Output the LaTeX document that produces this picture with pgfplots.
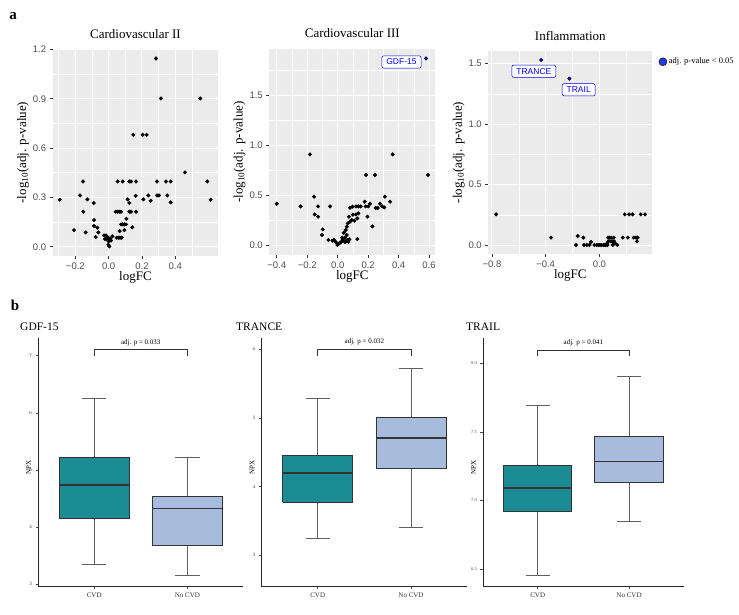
\documentclass[border=0pt]{standalone}
\usepackage{fontspec}
\setmainfont{Liberation Serif}
\newfontfamily\arial{Liberation Sans}
\usepackage{pgfplots}
\pgfplotsset{compat=1.18}
\newcommand\fs[1]{\fontsize{#1}{#1}\selectfont}
\definecolor{ggbg}{RGB}{235,235,235}
\definecolor{ggtick}{RGB}{77,77,77}
\definecolor{ggtickmark}{RGB}{51,51,51}
\definecolor{ptblue}{RGB}{0,0,255}
\definecolor{legblue}{RGB}{35,60,225}
\definecolor{cvd}{RGB}{27,139,148}
\definecolor{nocvd}{RGB}{167,188,220}
\definecolor{boxline}{RGB}{51,51,51}
\definecolor{whisk}{RGB}{95,95,95}
\tikzset{lbl/.style={draw=ptblue, fill=white, rounded corners=2pt, text=ptblue, font=\arial\fs{8.5}, inner xsep=4.5pt, inner ysep=3.2pt, line width=0.5pt}}
% box at position 1: #1 lower whisker, #2 Q1, #3 median, #4 Q3, #5 upper whisker, #6 fill
\newcommand\boxA[6]{%
  \addplot[whisk, line width=0.8pt] coordinates {(1,#4) (1,#5)};
  \addplot[whisk, line width=0.8pt] coordinates {(1,#2) (1,#1)};
  \addplot[whisk, line width=0.8pt] coordinates {(0.87,#5) (1.13,#5)};
  \addplot[whisk, line width=0.8pt] coordinates {(0.87,#1) (1.13,#1)};
  \addplot[fill=#6, draw=boxline, line width=0.9pt] coordinates {(0.625,#2) (1.375,#2) (1.375,#4) (0.625,#4) (0.625,#2)};
  \addplot[boxline, line width=1.4pt] coordinates {(0.625,#3) (1.375,#3)};
}
\newcommand\boxB[6]{%
  \addplot[whisk, line width=0.8pt] coordinates {(2,#4) (2,#5)};
  \addplot[whisk, line width=0.8pt] coordinates {(2,#2) (2,#1)};
  \addplot[whisk, line width=0.8pt] coordinates {(1.87,#5) (2.13,#5)};
  \addplot[whisk, line width=0.8pt] coordinates {(1.87,#1) (2.13,#1)};
  \addplot[fill=#6, draw=boxline, line width=0.9pt] coordinates {(1.625,#2) (2.375,#2) (2.375,#4) (1.625,#4) (1.625,#2)};
  \addplot[boxline, line width=1.4pt] coordinates {(1.625,#3) (2.375,#3)};
}
\pgfplotsset{
  volcano/.style={
    scale only axis,
    axis background/.style={fill=ggbg},
    axis line style={draw=none},
    xmajorgrids, ymajorgrids, xminorgrids, yminorgrids,
    major grid style={white, line width=1pt},
    minor grid style={white, line width=0.5pt},
    tick align=outside, tick pos=left,
    major tick length=3pt, minor tick length=0pt,
    major tick style={ggtickmark, line width=0.6pt},
    tick label style={font=\arial\fs{9.5}, text=ggtick},
    every axis title/.style={font=\fs{13}, at={(axis description cs:0.5,1.075)}, anchor=center},
    every axis y label/.style={at={(axis description cs:-0.18,0.5)}, rotate=90, anchor=center, font=\fs{13}},
    every axis x label/.style={at={(axis description cs:0.5,-0.102)}, anchor=center, font=\fs{13}},
    xlabel={logFC},
    ylabel={-log\textsubscript{10}(adj. p-value)},
  },
  blackpts/.style={only marks, mark=*, mark size=1.8pt, mark options={fill=black, draw=none}},
  bluepts/.style={only marks, mark=*, mark size=1.8pt, mark options={fill=ptblue, draw=none}},
  boxax/.style={
    scale only axis, height=248.4pt,
    axis x line=bottom, axis y line=left,
    axis line style={-, draw=black!85, line width=0.8pt},
    xmin=0.4, xmax=2.6, xtick={1,2}, xticklabels={CVD, No CVD},
    tick align=outside, major tick length=2.5pt,
    major tick style={black!70, line width=0.5pt},
    x tick label style={font=\fs{7}, text=black!80},
    y tick label style={font=\fs{4.5}, text=ggtick},
    ylabel={NPX},
    every axis y label/.style={at={(axis description cs:-0.047,0.48)}, rotate=90, anchor=center, font=\fs{7}},
  },
}
\begin{document}
\begin{tikzpicture}
\path[use as bounding box] (0,0) rectangle (739pt,-615pt);
\node[font=\bfseries\fs{15}] at (13pt,-16pt) {a};
\node[font=\bfseries\fs{15}] at (15pt,-305pt) {b};

% ---------- Cardiovascular II ----------
\begin{axis}[volcano, at={(52.7pt,-49.1pt)}, anchor=north west, width=165.6pt, height=207pt,
  xmin=-0.336, xmax=0.658, ymin=-0.057, ymax=1.202,
  xtick={-0.2,0,0.2,0.4}, xticklabels={−0.2,0.0,0.2,0.4},
  minor xtick={-0.3,-0.1,0.1,0.3,0.5},
  ytick={0,0.3,0.6,0.9,1.2}, yticklabels={0.0,0.3,0.6,0.9,1.2},
  minor ytick={0.15,0.45,0.75,1.05},
  title={Cardiovascular II}]
\addplot[blackpts] coordinates {
(0.284,1.145) (0.314,0.902) (0.55,0.902)
(0.148,0.681) (0.204,0.681) (0.228,0.681) (0.458,0.452)
(-0.154,0.397) (0.054,0.397) (0.084,0.397) (0.124,0.397) (0.134,0.397) (0.164,0.397) (0.29,0.397) (0.344,0.397) (0.372,0.397) (0.592,0.397)
(-0.172,0.312) (0.238,0.312) (0.29,0.312) (0.302,0.312) (0.352,0.312) (0.162,0.31)
(-0.294,0.286) (-0.128,0.288) (0.114,0.288) (0.208,0.288) (0.252,0.28) (0.372,0.27) (0.612,0.286)
(-0.09,0.266) (0.124,0.266)
(-0.152,0.213) (0.042,0.213) (0.054,0.213) (0.064,0.213) (0.074,0.213) (0.124,0.213) (0.134,0.213) (0.164,0.213)
(0.106,0.17) (-0.088,0.162)
(0.074,0.136) (0.084,0.136) (0.094,0.136) (0.104,0.136) (0.142,0.118)
(-0.088,0.126) (-0.068,0.116)
(0.094,0.101) (0.066,0.095) (-0.208,0.101)
(-0.138,0.087) (-0.062,0.087)
(-0.028,0.069) (-0.016,0.069)
(-0.078,0.059) (-0.006,0.059) (0.022,0.063)
(0.048,0.055) (0.058,0.055) (0.068,0.055) (0.078,0.055)
(-0.022,0.047) (-0.012,0.047) (0.008,0.047)
(0.0,0.032) (0.014,0.038)
(-0.002,0.012) (0.004,0.002)
};
\end{axis}

% ---------- Cardiovascular III ----------
\begin{axis}[volcano, at={(269.3pt,-49pt)}, anchor=north west, width=166pt, height=206.1pt,
  xmin=-0.449, xmax=0.641, ymin=-0.094, ymax=1.967,
  xtick={-0.4,-0.2,0,0.2,0.4,0.6}, xticklabels={−0.4,−0.2,0.0,0.2,0.4,0.6},
  minor xtick={-0.3,-0.1,0.1,0.3,0.5},
  ytick={0,0.5,1,1.5}, yticklabels={0.0,0.5,1.0,1.5},
  minor ytick={0.25,0.75,1.25,1.75},
  title={Cardiovascular III}]
\addplot[blackpts] coordinates {
(-0.40,0.42) (-0.243,0.393) (-0.182,0.913) (-0.155,0.49) (-0.151,0.313) (-0.129,0.393) (-0.129,0.29)
(-0.098,0.163) (-0.103,0.107) (-0.061,0.057) (-0.05,0.393)
(-0.024,0.057) (-0.013,0.037) (-0.002,0.007) (0.004,0.017) (0.015,0.03) (0.033,0.057) (0.048,0.08)
(0.059,0.107) (0.066,0.057) (0.048,0.037) (0.077,0.063) (-0.035,0.05) (0.025,0.04) (0.055,0.045) (0.07,0.04)
(0.053,0.157) (0.066,0.223) (0.081,0.24) (0.092,0.257) (0.074,0.29) (0.081,0.38) (0.098,0.39)
(0.12,0.393) (0.136,0.393) (0.151,0.393) (0.12,0.313) (0.129,0.273) (0.129,0.067) (0.177,0.44)
(0.184,0.393) (0.186,0.707) (0.201,0.393) (0.212,0.42) (0.195,0.29) (0.228,0.193) (0.245,0.707)
(0.25,0.377) (0.263,0.377) (0.278,0.42) (0.293,0.393) (0.31,0.49) (0.306,0.383) (0.344,0.44)
(0.361,0.913) (0.593,0.707) (0.136,0.323)
(0.04,0.13) (0.06,0.19) (0.1,0.31) (0.11,0.25) (0.03,0.08)
};
\addplot[bluepts] coordinates {(0.58,1.873)};
\node[lbl] at (axis cs:0.419,1.837) {GDF-15};
\end{axis}

% ---------- Inflammation ----------
\begin{axis}[volcano, at={(488.3pt,-50.8pt)}, anchor=north west, width=164pt, height=203.4pt,
  xmin=-0.827, xmax=0.394, ymin=-0.076, ymax=1.605,
  xtick={-0.8,-0.4,0}, xticklabels={−0.8,−0.4,0.0},
  minor xtick={-0.6,-0.2,0.2},
  ytick={0,0.5,1,1.5}, yticklabels={0.0,0.5,1.0,1.5},
  minor ytick={0.25,0.75,1.25},
  title={Inflammation},
  legend style={at={(axis description cs:1.039,0.946)}, anchor=west, draw=none, fill=none,
    font=\fs{8.5}, inner sep=0pt, /tikz/every even column/.append style={column sep=0pt}},
  legend image code/.code={\draw[mark repeat=2,mark phase=2,#1] plot coordinates {(0pt,0pt) (4pt,0pt) (8pt,0pt)};},
  legend cell align=left]
\addplot[blackpts, forget plot] coordinates {
(-0.769,0.253) (-0.36,0.061) (-0.161,0.074) (-0.174,0.0) (-0.119,0.061) (-0.114,0.0) (-0.094,0.0) (-0.074,0.0) (-0.062,0.025)
(-0.037,0.0) (-0.02,0.0) (-0.007,0.0) (0.005,0.0) (0.017,0.0) (0.03,0.0) (0.042,0.0)
(0.057,0.014) (0.067,0.03) (0.074,0.061) (0.087,0.061) (0.097,0.03) (0.107,0.061) (0.117,0.014) (0.134,0.0)
(0.174,0.061) (0.189,0.253) (0.221,0.253) (0.248,0.253) (0.211,0.061) (0.256,0.061) (0.273,0.061) (0.285,0.061) (0.28,0.03) (0.308,0.253) (0.34,0.253)
(0.05,0.0) (0.06,0.0) (0.085,0.03) (0.1,0.0) (0.064,0.061) (0.11,0.03)
};
\addplot[bluepts, forget plot] coordinates {(-0.434,1.529) (-0.223,1.375)};
\addlegendimage{only marks, mark=*, mark size=4pt, mark options={fill=legblue, draw=none}}
\addlegendentry{adj. p-value < 0.05}
\node[lbl] at (axis cs:-0.488,1.436) {TRANCE};
\node[lbl] at (axis cs:-0.154,1.283) {TRAIL};
\end{axis}

% ---------- GDF-15 box ----------
\begin{axis}[boxax, at={(38.3pt,-338.3pt)}, anchor=north west, width=205pt,
  ymin=2.958, ymax=7.304, ytick={3,4,5,6,7}]
\boxA{3.343}{4.144}{4.736}{5.224}{6.247}{cvd}
\boxB{3.15}{3.68}{4.322}{4.54}{5.218}{nocvd}
\addplot[boxline, line width=0.7pt] coordinates {(1,7.0) (1,7.111) (2,7.111) (2,7.0)};
\node[font=\fs{7}] at (axis cs:1.5,7.227) {adj. p = 0.033};
\end{axis}
\node[anchor=west, font=\fs{11.5}, inner sep=0pt] at (20pt,-327pt) {GDF-15};

% ---------- TRANCE box ----------
\begin{axis}[boxax, at={(261.7pt,-338.3pt)}, anchor=north west, width=205.3pt,
  ymin=2.538, ymax=6.16, ytick={3,4,5,6}]
\boxA{3.248}{3.772}{4.194}{4.447}{5.288}{cvd}
\boxB{3.403}{4.262}{4.709}{5.0}{5.717}{nocvd}
\addplot[boxline, line width=0.7pt] coordinates {(1,5.908) (1,6.0) (2,6.0) (2,5.908)};
\node[font=\fs{7}] at (axis cs:1.5,6.112) {adj. p = 0.032};
\end{axis}
\node[anchor=west, font=\fs{11.5}, inner sep=0pt] at (236pt,-327pt) {TRANCE};

% ---------- TRAIL box ----------
\begin{axis}[boxax, at={(482.9pt,-338.3pt)}, anchor=north west, width=200.9pt,
  ymin=6.373, ymax=8.18, ytick={6.5,7,7.5,8}, yticklabels={6.5,7.0,7.5,8.0}]
\boxA{6.454}{6.922}{7.09}{7.255}{7.692}{cvd}
\boxB{6.85}{7.129}{7.282}{7.466}{7.90}{nocvd}
\addplot[boxline, line width=0.7pt] coordinates {(1,8.053) (1,8.095) (2,8.095) (2,8.053)};
\node[font=\fs{7}] at (axis cs:1.5,8.15) {adj. p = 0.041};
\end{axis}
\node[anchor=west, font=\fs{11.5}, inner sep=0pt] at (466pt,-327pt) {TRAIL};
\end{tikzpicture}
\end{document}
